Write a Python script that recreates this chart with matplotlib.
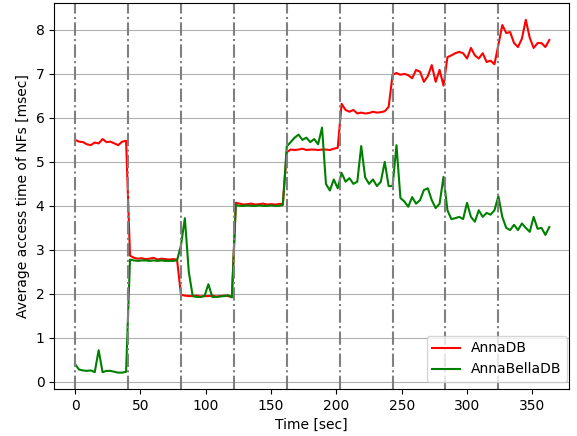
import numpy as np
import matplotlib
matplotlib.use("Agg")
import matplotlib.pyplot as plt

# sample times [sec], one sample every 3 s
time = np.arange(0, 364, 3)

# phase boundaries [sec]
phase_starts = [0, 40.5, 81, 121.5, 162, 202.5, 243, 283.5, 324]

anna_db = [
    # phase 1
    5.50, 5.46, 5.45, 5.40, 5.38, 5.44, 5.42, 5.52, 5.45, 5.46, 5.42, 5.38, 5.46, 5.48,
    # phase 2
    2.87, 2.82, 2.80, 2.81, 2.79, 2.80, 2.82, 2.78, 2.80, 2.79, 2.78, 2.79, 2.78,
    # phase 3
    1.98, 1.96, 1.95, 1.95, 1.96, 1.94, 1.95, 1.95, 1.96, 1.94, 1.95, 1.96, 1.95, 1.93,
    # phase 4
    4.07, 4.05, 4.03, 4.04, 4.05, 4.03, 4.04, 4.05, 4.03, 4.04, 4.03, 4.04, 4.05,
    # phase 5
    5.22, 5.28, 5.27, 5.28, 5.30, 5.27, 5.28, 5.28, 5.27, 5.28, 5.28, 5.27, 5.30, 5.32,
    # phase 6
    6.32, 6.18, 6.14, 6.18, 6.10, 6.12, 6.10, 6.11, 6.14, 6.12, 6.13, 6.15, 6.25,
    # phase 7
    6.98, 7.02, 6.98, 7.00, 6.97, 6.90, 7.09, 7.05, 6.82, 6.95, 7.20, 6.82, 7.09, 6.73,
    # phase 8
    7.38, 7.42, 7.47, 7.50, 7.47, 7.35, 7.59, 7.42, 7.35, 7.47, 7.27, 7.30, 7.22,
    # phase 9
    7.66, 8.11, 7.93, 7.95, 7.70, 7.61, 7.80, 8.23, 7.82, 7.59, 7.70, 7.70, 7.61, 7.77,
]

anna_bella_db = [
    # phase 1
    0.40, 0.28, 0.26, 0.25, 0.26, 0.22, 0.72, 0.22, 0.25, 0.25, 0.23, 0.21, 0.21, 0.23,
    # phase 2
    2.78, 2.76, 2.75, 2.76, 2.76, 2.75, 2.76, 2.75, 2.76, 2.75, 2.75, 2.75, 2.76,
    # phase 3
    3.10, 3.72, 2.50, 1.95, 1.93, 1.93, 1.95, 2.22, 1.93, 1.93, 1.94, 1.95, 1.97, 1.92,
    # phase 4
    4.02, 4.00, 4.00, 4.01, 4.00, 4.00, 4.01, 4.00, 4.00, 4.01, 4.00, 4.00, 4.02,
    # phase 5
    5.35, 5.45, 5.55, 5.62, 5.50, 5.55, 5.45, 5.52, 5.40, 5.78, 4.50, 4.35, 4.60, 4.40,
    # phase 6
    4.75, 4.55, 4.63, 4.50, 4.55, 5.36, 4.65, 4.50, 4.60, 4.45, 4.55, 5.00, 4.45,
    # phase 7
    4.45, 5.38, 4.18, 4.10, 3.98, 4.20, 4.05, 4.13, 4.36, 4.40, 4.13, 3.95, 4.05, 4.66,
    # phase 8
    3.90, 3.70, 3.72, 3.75, 3.70, 4.07, 3.75, 3.64, 3.90, 3.75, 3.84, 3.80, 3.90,
    # phase 9
    4.22, 3.75, 3.50, 3.45, 3.57, 3.45, 3.60, 3.50, 3.41, 3.75, 3.48, 3.50, 3.34, 3.52,
]

fig, ax = plt.subplots(figsize=(5.77, 4.36), dpi=100)
fig.subplots_adjust(left=0.094, right=0.986, top=0.993, bottom=0.108)

ax.plot(time, anna_db, color="red", linewidth=1.5, label="AnnaDB")
ax.plot(time, anna_bella_db, color="green", linewidth=1.5, label="AnnaBellaDB")

for t0 in phase_starts:
    ax.axvline(t0, color="gray", linestyle="-.", linewidth=1.5)

ax.yaxis.grid(True)
ax.set_xlim(-16, 378)
ax.set_ylim(-0.16, 8.61)
ax.set_xlabel("Time [sec]")
ax.set_ylabel("Average access time of NFs [msec]")
ax.legend(loc="lower right", bbox_to_anchor=(1.01, 0))

fig.savefig("out.png", dpi=100)
